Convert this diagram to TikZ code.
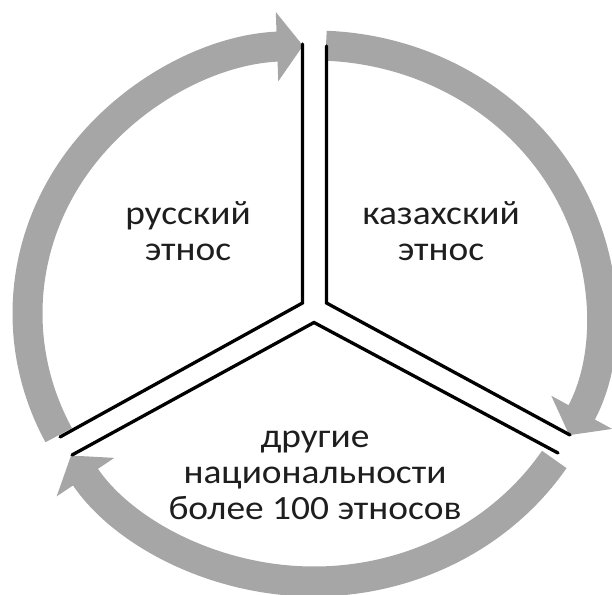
\documentclass[tikz,border=0pt]{standalone}
\usepackage{fontspec}
\setmainfont{Carlito}[FakeStretch=1.1]
\usetikzlibrary{arrows.meta}
\definecolor{ringgray}{RGB}{166,166,166}
\definecolor{textgray}{RGB}{30,30,30}

\begin{document}
\begin{tikzpicture}[
    x=1pt, y=1pt,
    font=\fontsize{34}{36}\selectfont,
    every node/.style={align=center},
    lbl/.style={text=textgray, inner sep=0pt},
    ring/.style={draw=ringgray, line width=30pt, -{Triangle[length=26pt, width=68pt]}},
    divider/.style={draw=black, line width=3.3pt, line cap=round, line join=miter}
]
\useasboundingbox (0,0) rectangle (612,594);
\clip (0,0) rectangle (612,594);
\coordinate (c) at (314,280.5);
% gray arrows round the circle
\draw[ring] (c) ++(207:286.5 and 268) arc[start angle=207, end angle=92.2, x radius=286.5, y radius=268];
\draw[ring] (c) ++(87.6:286.5 and 268) arc[start angle=87.6, end angle=-27, x radius=286.5, y radius=268];
\draw[ring] (c) ++(-33:286.5 and 268) arc[start angle=-33, end angle=-148, x radius=286.5, y radius=268];
% double lines between the sectors
\coordinate (lt) at (302.5,550);
\coordinate (lj) at (302.5,291);
\coordinate (le) at (60,157);
\coordinate (rt) at (326.5,548);
\coordinate (rj) at (326.5,291);
\coordinate (re) at (570,159);
\coordinate (bl) at (72,139);
\coordinate (bj) at (314,271.5);
\coordinate (br) at (558,141);
\draw[divider] (lt) -- (lj) -- (le);
\draw[divider] (rt) -- (rj) -- (re);
\draw[divider] (bl) -- (bj) -- (br);
% sector labels
\node[lbl] (rus) at (188,363) {русский\\этнос};
\node[lbl] (kaz) at (441,363) {казахский\\этнос};
\node[lbl] (other) at (315,119) {другие\\национальности\\более 100 этносов};
\end{tikzpicture}
\end{document}
